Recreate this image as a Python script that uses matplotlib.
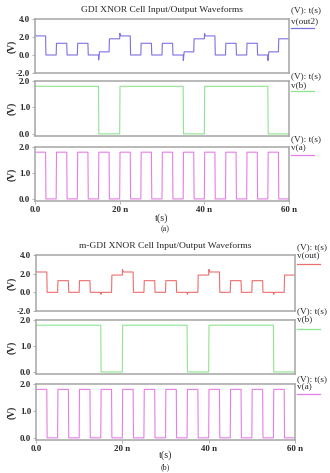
import numpy as np
import matplotlib
matplotlib.use("Agg")
import matplotlib.pyplot as plt

# ---------------- data ----------------
edges = [0, 2.5, 5, 7.5, 10, 12.5, 15, 17.5, 20, 22.5, 25, 27.5, 30,
         32.5, 35, 37.5, 40, 42.5, 45, 47.5, 50, 52.5, 55, 57.5, 60]  # ns

gdi_out_levels = [2.12, 0, 1.3, 0, 1.3, 0, 0.35, 1.8,
                  2.12, 0, 1.3, 0, 1.3, 0, 0.35, 1.8,
                  2.12, 0, 1.3, 0, 1.3, 0, 0.35, 1.8]
gdi_out_spikes = [2.25, None, None, None, None, None, -0.55, None,
                  2.4, None, None, None, None, None, -0.6, None,
                  2.4, None, None, None, None, None, -0.6, None]

mgdi_out_levels = [2.18, 0, 1.25, 0, 1.25, 0, 0, 1.85,
                   2.18, 0, 1.25, 0, 1.25, 0, 0, 1.85,
                   2.18, 0, 1.25, 0, 1.25, 0, 0, 1.85]
mgdi_out_spikes = [2.25, None, None, None, None, None, -0.2, None,
                   2.45, None, None, None, None, None, -0.2, None,
                   2.45, None, None, None, None, None, -0.2, None]

vb_levels = [1.8, 1.8, 1.8, 1.8, 1.8, 1.8, 0, 0,
             1.8, 1.8, 1.8, 1.8, 1.8, 1.8, 0, 0,
             1.8, 1.8, 1.8, 1.8, 1.8, 1.8, 0, 0]
va_levels = [1.8, 0, 1.8, 0, 1.8, 0, 1.8, 0, 1.8, 0, 1.8, 0,
             1.8, 0, 1.8, 0, 1.8, 0, 1.8, 0, 1.8, 0, 1.8, 0]

xtick_vals = [0, 20, 40, 60]
xtick_labels = ["0.0", "20 n", "40 n", "60 n"]

# ---------------- helpers ----------------
def build(levels, spikes=None, tr=0.08):
    t, v = [], []
    for i, lv in enumerate(levels):
        t0, t1 = edges[i], edges[i + 1]
        sp = spikes[i] if spikes is not None else None
        if i == 0:
            if sp is not None:
                t += [t0]; v += [sp]
                t += [t0 + 0.3]; v += [lv]
            else:
                t += [t0]; v += [lv]
        else:
            if sp is not None:
                t += [t0 + tr * 0.5]; v += [sp]
                t += [t0 + tr * 3]; v += [lv]
            else:
                t += [t0 + tr]; v += [lv]
        t += [t1]; v += [lv]
    return np.array(t), np.array(v)

W, H = 330, 473
fig = plt.figure(figsize=(W / 100, H / 100), dpi=100)
FONT = "Liberation Serif"
FRAME = "#a6a6a6"
TXT = "#2a2a2a"
FS = 6.4

def ax_at(x0, x1, y0, y1):
    return fig.add_axes([x0 / W, 1 - y1 / H, (x1 - x0) / W, (y1 - y0) / H])

def style(ax, ylim, yticks, ylabels, ymid, bottom=False):
    ax.set_xlim(0, 60)
    ax.set_ylim(*ylim)
    for s in ax.spines.values():
        s.set_color(FRAME)
        s.set_linewidth(1.1)
    ax.set_yticks(yticks)
    ax.set_yticklabels(ylabels, fontfamily=FONT, fontweight="bold", fontsize=FS, color=TXT)
    ax.tick_params(axis="y", length=2, width=0.6, color=FRAME, pad=1.5)
    if bottom:
        ax.set_xticks(xtick_vals)
        ax.set_xticklabels(xtick_labels, fontfamily=FONT, fontweight="bold", fontsize=FS, color=TXT)
        ax.tick_params(axis="x", length=2, width=0.6, color=FRAME, pad=1.5)
    else:
        ax.set_xticks([])
    fig.text(12 / W, 1 - ymid / H, "(V)", rotation=90, va="center", ha="center",
             fontfamily=FONT, fontweight="bold", fontsize=FS + 0.6, color=TXT)

def legend(xl, ytxt, yname, yline, name, color):
    fig.text(xl / W, 1 - ytxt / H, "(V): t(s)", fontfamily=FONT, fontsize=FS + 0.3,
             va="center", ha="left", color=TXT)
    fig.text(xl / W, 1 - yname / H, name, fontfamily=FONT, fontsize=FS + 0.3,
             va="center", ha="left", color=TXT)
    fig.add_artist(plt.Line2D([xl / W, (xl + 23) / W], [1 - yline / H, 1 - yline / H],
                              color=color, lw=0.9))

C_OUT2 = "#7d72e2"
C_OUT = "#ec6f6f"
C_B = "#8fe48f"
C_A = "#e77ee7"
LW = 0.8

def figure_block(x0, x1, p1, p2, p3, title, title_y, out_levels, out_spikes, out_name, out_color,
                 xl, leg_rows, xlab_y, cap, cap_y):
    a1 = ax_at(x0, x1, *p1)
    t, v = build(out_levels, out_spikes)
    a1.plot(t, v, color=out_color, lw=LW)
    style(a1, (-2, 4), [-2, 0, 2, 4], ["-2.0", "0.0", "2.0", "4.0"], (p1[0] + p1[1]) / 2)
    a2 = ax_at(x0, x1, *p2)
    t, v = build(vb_levels)
    a2.plot(t, v, color=C_B, lw=LW)
    style(a2, (-0.08, 2.0), [0, 1, 2], ["0.0", "1.0", "2.0"], (p2[0] + p2[1]) / 2)
    a3 = ax_at(x0, x1, *p3)
    t, v = build(va_levels)
    a3.plot(t, v, color=C_A, lw=LW)
    style(a3, (-0.08, 2.0), [0, 1, 2], ["0.0", "1.0", "2.0"], (p3[0] + p3[1]) / 2, bottom=True)
    fig.text((x0 + x1) / 2 / W, 1 - title_y / H, title, fontfamily=FONT,
             fontsize=FS + 0.4, ha="center", va="center", color=TXT)
    names = [(out_name, out_color), ("v(b)", C_B), ("v(a)", C_A)]
    for (yt, yn, yl), (nm, c) in zip(leg_rows, names):
        legend(xl, yt, yn, yl, nm, c)
    fig.text((x0 + x1) / 2 / W, 1 - xlab_y / H, "t(s)", fontfamily=FONT,
             fontsize=FS + 0.8, ha="center", va="center", color=TXT)
    fig.text(165 / W, 1 - cap_y / H, cap, fontfamily=FONT, fontsize=FS - 0.5,
             ha="center", va="center", color=TXT)

figure_block(35, 289, (19, 73), (81, 136), (147, 201),
             "GDI XNOR Cell Input/Output Waveforms", 10.5,
             gdi_out_levels, gdi_out_spikes, "v(out2)", C_OUT2,
             291, [(10, 21, 28), (76, 85, 91), (139, 148, 155)], 218, "(a)", 229)

figure_block(36, 295, (255, 311), (320, 374), (384, 440),
             "m-GDI XNOR Cell Input/Output Waveforms", 246,
             mgdi_out_levels, mgdi_out_spikes, "v(out)", C_OUT,
             297, [(247, 256, 264), (311, 319, 329), (379, 387, 394)], 455, "(b)", 467)

fig.savefig("out.png", dpi=100)
